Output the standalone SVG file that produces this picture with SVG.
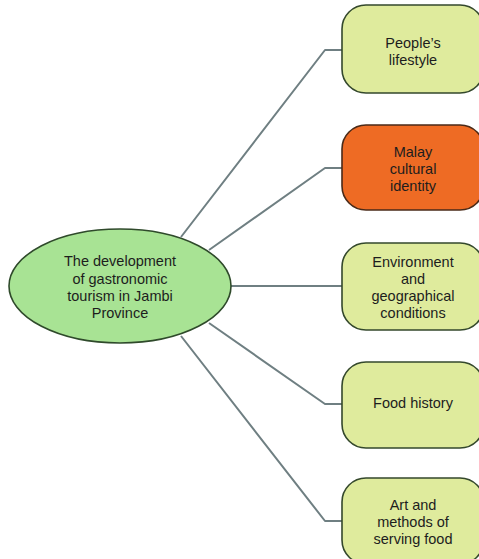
<svg xmlns="http://www.w3.org/2000/svg" width="479" height="559" viewBox="0 0 479 559">
  <style>
    .bg { fill: #ffffff; }
    .edge { fill: none; stroke: #6f7f82; stroke-width: 2; stroke-linejoin: round; }
    .hub { fill: #a8e394; stroke: #2f4a2b; stroke-width: 1.6; }
    .leaf { fill: #dfeb9d; stroke: #34482c; stroke-width: 1.6; }
    .leaf.accent { fill: #ee6b24; stroke: #4a2a18; }
    .label { font-family: "Liberation Sans", Arial, sans-serif; font-size: 14.5px; fill: #1d1d1d; text-anchor: middle; dominant-baseline: central; }
  </style>
  <rect class="bg" x="0" y="0" width="479" height="559"/>

  <g id="connectors">
    <polyline class="edge" points="181,237 325,50 342,50"/>
    <polyline class="edge" points="209,250 325,168 342,168"/>
    <polyline class="edge" points="231,286 342,286"/>
    <polyline class="edge" points="209,323 325,404 342,404"/>
    <polyline class="edge" points="181,336 325,521 342,521"/>
  </g>

  <g id="hub">
    <ellipse class="hub" cx="120" cy="286" rx="111" ry="57"/>
    <text class="label" x="120" y="261">The development</text>
    <text class="label" x="120" y="279">of gastronomic</text>
    <text class="label" x="120" y="296">tourism in Jambi</text>
    <text class="label" x="120" y="313">Province</text>
  </g>

  <g id="lifestyle">
    <rect class="leaf" x="342" y="5" width="142" height="88" rx="24"/>
    <text class="label" x="413" y="43">People’s</text>
    <text class="label" x="413" y="60">lifestyle</text>
  </g>

  <g id="cultural-identity">
    <rect class="leaf accent" x="342" y="125" width="142" height="85" rx="24"/>
    <text class="label" x="413" y="152">Malay</text>
    <text class="label" x="413" y="169">cultural</text>
    <text class="label" x="413" y="186">identity</text>
  </g>

  <g id="environment">
    <rect class="leaf" x="342" y="243" width="142" height="87" rx="24"/>
    <text class="label" x="413" y="262">Environment</text>
    <text class="label" x="413" y="279">and</text>
    <text class="label" x="413" y="296">geographical</text>
    <text class="label" x="413" y="313">conditions</text>
  </g>

  <g id="food-history">
    <rect class="leaf" x="342" y="362" width="142" height="86" rx="24"/>
    <text class="label" x="413" y="403">Food history</text>
  </g>

  <g id="serving-food">
    <rect class="leaf" x="342" y="478" width="142" height="86" rx="24"/>
    <text class="label" x="413" y="505">Art and</text>
    <text class="label" x="413" y="522">methods of</text>
    <text class="label" x="413" y="539">serving food</text>
  </g>
</svg>
